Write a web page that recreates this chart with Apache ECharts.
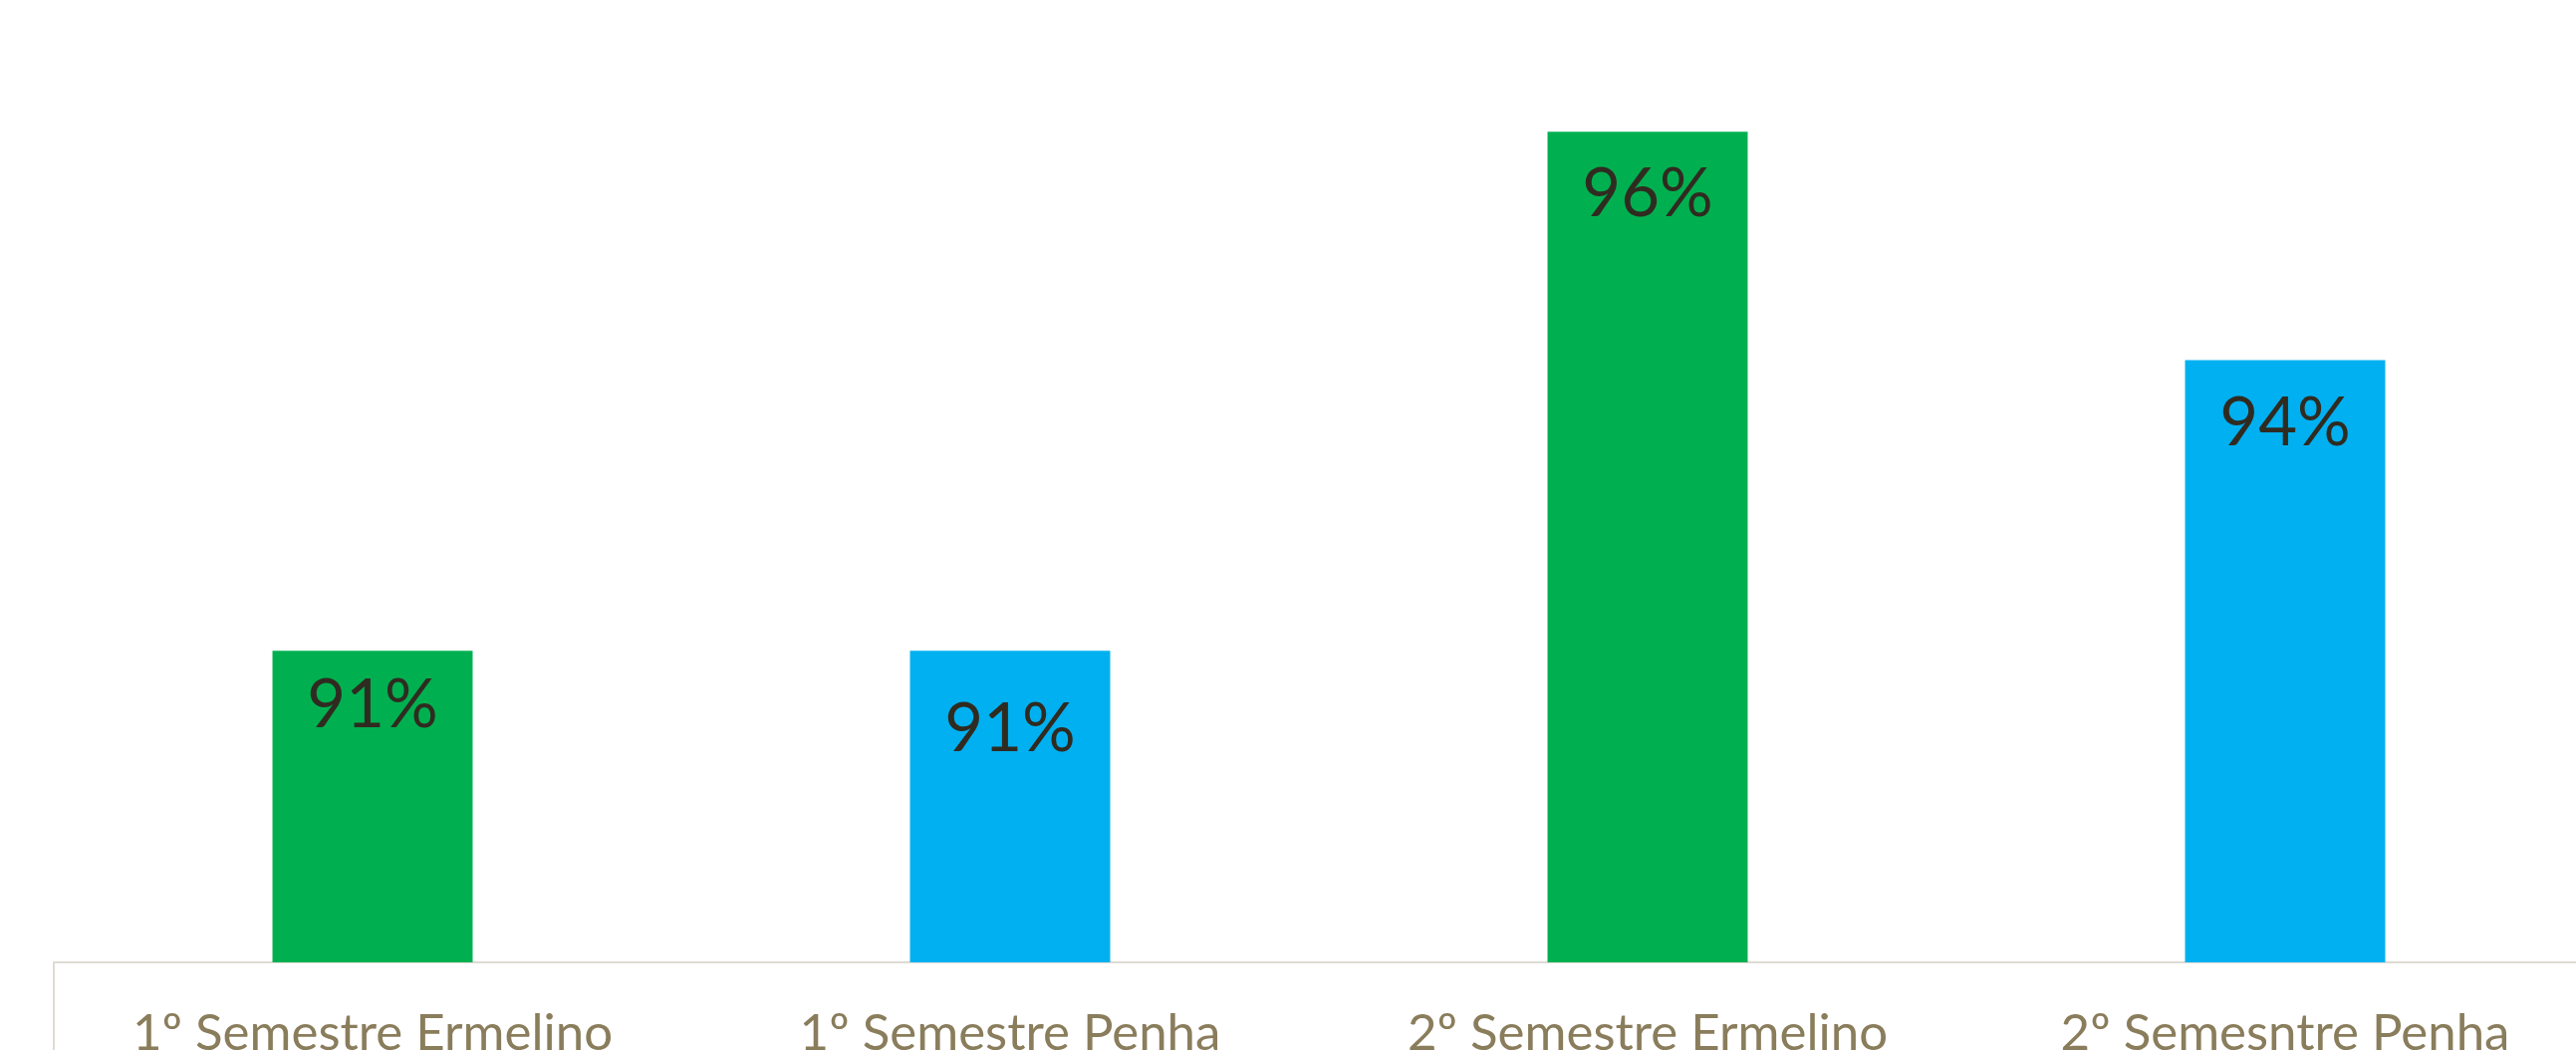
<!DOCTYPE html>
<html>
<head>
<meta charset="utf-8">
<script src="https://cdn.jsdelivr.net/npm/echarts@6/dist/echarts.min.js"></script>
<style>
  html, body { margin: 0; padding: 0; background: #fff; }
  #chart { width: 2586px; height: 1054px; }
</style>
</head>
<body>
<div id="chart"></div>
<script>
const categories = ['1º Semestre Ermelino', '1º Semestre Penha', '2º Semestre Ermelino', '2º Semesntre Penha']
const values = [0.91, 0.91, 0.96, 0.938]
const barColors = ['#00B050', '#00B0F0', '#00B050', '#00B0F0']
const labelOffsets = [22, 46, 30, 30]

const chart = echarts.init(document.getElementById('chart'))

const option = {
  backgroundColor: '#ffffff',
  animation: false,
  grid: {
    left: 54,
    right: -28,
    top: 28,
    bottom: 88,
    containLabel: false,
    outerBoundsMode: 'none'
  },
  xAxis: {
    type: 'category',
    data: categories,
    axisLine: { lineStyle: { color: '#DEDBD3', width: 2 } },
    axisTick: { show: false },
    axisLabel: {
      interval: 0,
      color: '#8A7D5C',
      fontFamily: 'Lato',
      fontSize: 51,
      margin: 46
    }
  },
  yAxis: {
    type: 'value',
    min: 0.88,
    max: 0.97,
    show: false,
    splitLine: { show: false }
  },
  series: [
    {
      type: 'bar',
      barWidth: '31.4%',
      data: values.map((v, i) => ({
        value: v,
        itemStyle: { color: barColors[i] },
        label: { distance: labelOffsets[i] }
      })),
      label: {
        show: true,
        position: 'insideTop',
        color: '#302B20',
        fontFamily: 'Lato',
        fontSize: 67,
        formatter: (p) => Math.round(p.value * 100) + '%'
      }
    }
  ],
  graphic: [
    {
      type: 'line',
      shape: { x1: 54, y1: 966, x2: 54, y2: 1054 },
      style: { stroke: '#DEDBD3', lineWidth: 2 }
    }
  ]
}

chart.setOption(option)
</script>
</body>
</html>
